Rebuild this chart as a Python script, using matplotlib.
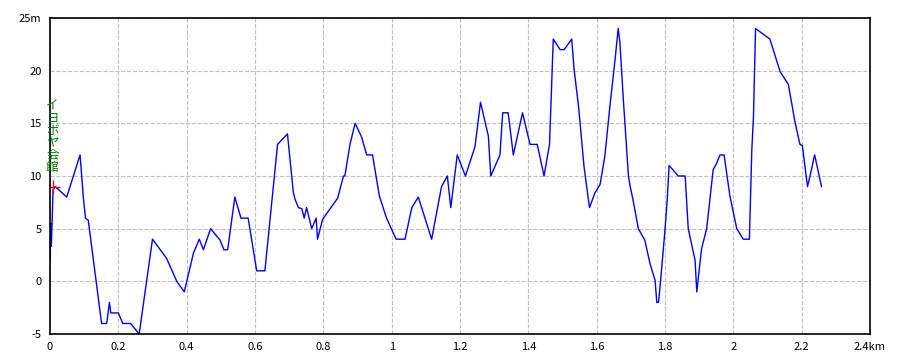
import matplotlib
matplotlib.use('Agg')
import matplotlib.pyplot as plt

plt.rcParams['font.family'] = ['Noto Sans CJK JP', 'DejaVu Sans']

# 距離(km) と 標高(m)
dist = [0, 0.002, 0.004, 0.009, 0.015, 0.049, 0.088, 0.098, 0.104, 0.112,
        0.151, 0.166, 0.174, 0.178, 0.2, 0.213, 0.236, 0.261, 0.3, 0.341,
        0.371, 0.393, 0.42, 0.437, 0.449, 0.47, 0.498, 0.509, 0.52, 0.541,
        0.559, 0.58, 0.605, 0.629, 0.666, 0.695, 0.712, 0.717, 0.727, 0.737,
        0.744, 0.751, 0.766, 0.779, 0.783, 0.798, 0.82, 0.842, 0.859, 0.863,
        0.878, 0.893, 0.912, 0.927, 0.944, 0.964, 0.985, 1.013, 1.039, 1.059,
        1.078, 1.117, 1.146, 1.163, 1.173, 1.192, 1.216, 1.244, 1.26, 1.283,
        1.29, 1.317, 1.325, 1.341, 1.356, 1.383, 1.405, 1.426, 1.446, 1.462,
        1.473, 1.493, 1.505, 1.527, 1.534, 1.547, 1.563, 1.579, 1.595, 1.61,
        1.624, 1.639, 1.654, 1.663, 1.668, 1.678, 1.693, 1.698, 1.706, 1.722,
        1.741, 1.756, 1.771, 1.776, 1.781, 1.787, 1.8, 1.807, 1.812, 1.839,
        1.859, 1.868, 1.888, 1.893, 1.907, 1.922, 1.941, 1.951, 1.961, 1.973,
        1.99, 2.01, 2.029, 2.047, 2.054, 2.059, 2.065, 2.107, 2.137, 2.161,
        2.18, 2.195, 2.202, 2.217, 2.221, 2.238, 2.258]
elev = [2, 5.5, 3.3, 8.7, 9, 8, 12, 7.8, 6, 5.8,
        -4, -4, -2, -3, -3, -4, -4, -5, 4, 2.2,
        0, -1, 2.7, 4, 3, 5, 3.9, 3, 3, 8,
        6, 6, 1, 1, 13, 14, 8.5, 7.8, 7, 6.9,
        6, 7, 5, 6, 4, 5.9, 6.9, 7.9, 10, 10,
        13, 15, 13.7, 12, 12, 8.1, 6, 4, 4, 7,
        8, 4, 9, 10, 7, 12, 10, 12.8, 17, 13.8,
        10, 12, 16, 16, 12, 16, 13, 13, 10, 13,
        23, 22, 22, 23, 20.1, 16.6, 10.9, 7, 8.4, 9.2,
        11.9, 16.7, 21.1, 24, 22.7, 17.3, 10, 9, 7.8, 5,
        3.9, 1.7, 0.1, -2, -2, 0, 4.9, 8, 11, 10,
        10, 5, 2, -1, 3.1, 5, 10.6, 11.2, 12, 12,
        8.1, 5, 4, 4, 12.4, 15.7, 24, 23, 19.9, 18.7,
        15.2, 13, 12.9, 9, 9.5, 12, 9]

x_ticks = [0, 0.2, 0.4, 0.6, 0.8, 1.0, 1.2, 1.4, 1.6, 1.8, 2.0, 2.2, 2.4]
x_labels = ['0', '0.2', '0.4', '0.6', '0.8', '1', '1.2', '1.4', '1.6', '1.8', '2', '2.2', '2.4km']
y_ticks = [-5, 0, 5, 10, 15, 20, 25]
y_labels = ['-5', '0', '5', '10', '15', '20', '25m']

spot_name = 'イヨボヤ会館'
spot_x = 0.009
spot_y = 9

fig = plt.figure(figsize=(9.1, 3.64), dpi=100)
ax = fig.add_axes([50/910, 30/364, 820/910, 316/364])

ax.plot(dist, elev, color='#0000ff', linewidth=1)
ax.plot([spot_x], [spot_y], marker='+', color='red', markersize=10, markeredgewidth=1)
ax.text(spot_x - 0.002, 10.2, '\n'.join(spot_name), color='green', fontsize=9,
        ha='center', va='bottom', linespacing=0.92)

ax.set_xlim(0, 2.4)
ax.set_ylim(-5, 25)
ax.set_xticks(x_ticks)
ax.set_xticklabels(x_labels)
ax.set_yticks(y_ticks)
ax.set_yticklabels(y_labels)
ax.tick_params(length=0, labelsize=8, pad=6)
ax.grid(True, color='#c0c0c0', linestyle='--', linewidth=0.8)
for s in ax.spines.values():
    s.set_linewidth(1.2)

fig.savefig('out.png', dpi=100)
